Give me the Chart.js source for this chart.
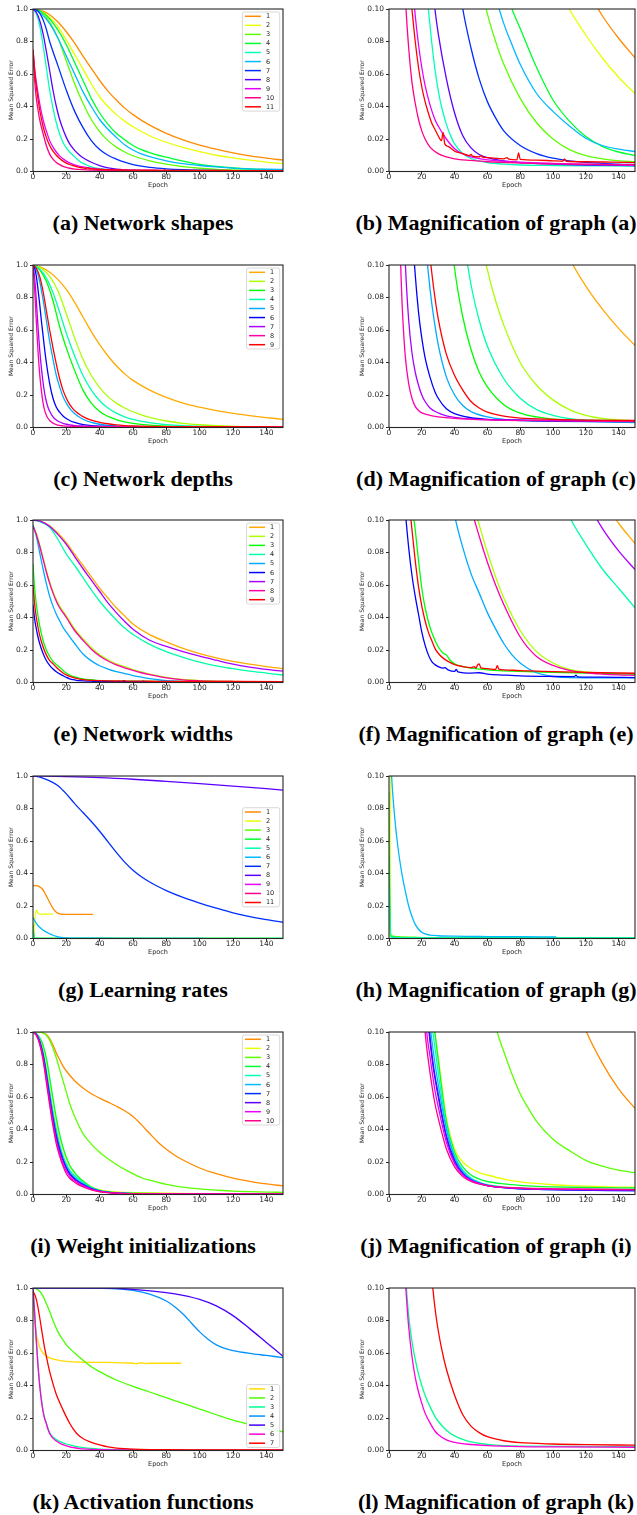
<!DOCTYPE html>
<html><head><meta charset="utf-8">
<script src="https://cdn.jsdelivr.net/npm/chart.js@4/dist/chart.umd.min.js"></script>
<style>
html,body{margin:0;padding:0;background:#fff;}
body{width:637px;height:1515px;position:relative;overflow:hidden;}
canvas{position:absolute;}
.cap{position:absolute;font-family:"Liberation Serif","Times New Roman",serif;font-weight:bold;font-size:22px;color:#000;white-space:nowrap;transform:translate(-50%,-50%);line-height:1;}
</style></head><body>
<script>
// ---------------- DATA (epoch, mean squared error) ----------------
const captions = ['(a) Network shapes','(b) Magnification of graph (a)','(c) Network depths','(d) Magnification of graph (c)','(e) Network widths','(f) Magnification of graph (e)','(g) Learning rates','(h) Magnification of graph (g)','(i) Weight initializations','(j) Magnification of graph (i)','(k) Activation functions','(l) Magnification of graph (k)'];

const xTicks = [0,20,40,60,80,100,120,140];
const yTicksMain = [0.0,0.2,0.4,0.6,0.8,1.0];
const yTicksZoom = [0.00,0.02,0.04,0.06,0.08,0.10];

const shapesLabels = ['1','2','3','4','5','6','7','8','9','10','11'];
const shapesSeries = [
 [[0,1],[5,0.99],[10,0.965],[15,0.92],[20,0.86],[25,0.79],[30,0.71],[35,0.635],[40,0.56],[45,0.495],[50,0.44],[55,0.39],[60,0.35],[70,0.285],[80,0.235],[90,0.195],[100,0.163],[110,0.137],[120,0.114],[130,0.096],[140,0.082],[150,0.07]],
 [[0,1],[5,0.985],[10,0.95],[15,0.89],[20,0.81],[25,0.72],[30,0.63],[35,0.54],[40,0.46],[45,0.4],[50,0.35],[55,0.31],[60,0.275],[70,0.22],[80,0.18],[90,0.148],[100,0.122],[110,0.1],[120,0.084],[130,0.07],[140,0.058],[150,0.048]],
 [[0,1],[5,0.98],[10,0.92],[15,0.82],[20,0.68],[25,0.54],[30,0.42],[35,0.32],[40,0.245],[45,0.19],[50,0.15],[55,0.12],[60,0.097],[65,0.08],[70,0.066],[80,0.045],[90,0.03],[100,0.02],[110,0.0135],[120,0.0098],[130,0.0078],[140,0.0066],[150,0.006]],
 [[0,1],[5,0.985],[10,0.94],[15,0.87],[20,0.78],[25,0.67],[30,0.56],[35,0.45],[40,0.36],[45,0.29],[50,0.235],[55,0.195],[60,0.16],[65,0.135],[70,0.116],[75,0.1],[80,0.088],[90,0.064],[100,0.044],[110,0.031],[120,0.0215],[130,0.0155],[140,0.012],[150,0.0098]],
 [[0,1],[2,0.97],[4,0.9],[6,0.78],[8,0.64],[10,0.5],[12,0.39],[14,0.3],[16,0.23],[18,0.18],[20,0.145],[22,0.12],[24,0.1],[26,0.08],[28,0.063],[30,0.05],[32,0.04],[35,0.029],[38,0.021],[40,0.017],[45,0.011],[50,0.008],[60,0.0055],[70,0.0045],[80,0.004],[100,0.0037],[150,0.0033]],
 [[0,1],[5,0.97],[10,0.91],[15,0.82],[20,0.71],[25,0.6],[30,0.49],[35,0.4],[40,0.32],[45,0.26],[50,0.21],[55,0.165],[60,0.132],[65,0.108],[70,0.091],[75,0.078],[80,0.066],[90,0.048],[100,0.037],[110,0.028],[120,0.0205],[130,0.016],[140,0.0138],[150,0.0123]],
 [[0,1],[2,0.995],[4,0.975],[6,0.935],[8,0.875],[10,0.8],[15,0.65],[20,0.5],[25,0.37],[30,0.27],[35,0.19],[40,0.135],[45,0.1],[50,0.076],[55,0.057],[60,0.043],[65,0.033],[70,0.025],[80,0.016],[90,0.011],[100,0.0082],[110,0.0066],[120,0.0056],[130,0.005],[140,0.0045],[150,0.0042]],
 [[0,1],[2,0.98],[4,0.93],[6,0.85],[8,0.74],[10,0.62],[12,0.5],[14,0.4],[16,0.32],[18,0.26],[20,0.21],[22,0.17],[25,0.13],[28,0.1],[30,0.085],[35,0.057],[40,0.036],[45,0.022],[50,0.0145],[55,0.0105],[60,0.0085],[70,0.0065],[80,0.0055],[100,0.0045],[120,0.004],[150,0.0037]],
 [[0,0.75],[1,0.63],[2,0.55],[4,0.42],[6,0.32],[8,0.25],[10,0.19],[12,0.15],[14,0.12],[16,0.096],[18,0.078],[20,0.064],[22,0.053],[25,0.041],[28,0.032],[30,0.028],[35,0.02],[40,0.014],[45,0.0108],[50,0.009],[60,0.0072],[70,0.0063],[80,0.0057],[100,0.005],[120,0.0045],[150,0.004]],
 [[0,0.73],[1,0.56],[2,0.45],[3,0.38],[4,0.32],[6,0.235],[8,0.16],[10,0.107],[12,0.076],[14,0.055],[16,0.042],[18,0.032],[20,0.025],[22,0.02],[25,0.015],[30,0.011],[35,0.009],[40,0.0078],[50,0.0068],[60,0.006],[80,0.0052],[100,0.0047],[120,0.0044],[150,0.0042]],
 [[0,0.75],[1,0.62],[2,0.52],[4,0.38],[6,0.28],[8,0.21],[10,0.16],[12,0.125],[14,0.1],[16,0.08],[18,0.064],[20,0.052],[22,0.043],[24,0.036],[26,0.03],[28,0.026],[30,0.022],[32,0.019],[33,0.024],[34,0.017],[36,0.0155],[38,0.014],[40,0.0125],[45,0.011],[49,0.0098],[50,0.0105],[51,0.0095],[55,0.009],[56,0.0098],[57,0.0088],[60,0.0085],[70,0.0078],[72,0.0085],[73,0.0076],[78,0.0072],[79,0.0115],[80,0.0075],[90,0.007],[100,0.0066],[106,0.0064],[107,0.0078],[108,0.0063],[120,0.006],[135,0.0058],[150,0.0055]]
];

const depthsLabels = ['1','2','3','4','5','6','7','8','9'];
const depthsSeries = [
 [[0,1],[5,0.985],[10,0.955],[15,0.91],[20,0.85],[25,0.77],[30,0.68],[35,0.59],[40,0.51],[45,0.44],[50,0.38],[55,0.33],[60,0.29],[70,0.23],[80,0.185],[90,0.15],[100,0.125],[110,0.104],[120,0.087],[130,0.073],[140,0.061],[150,0.0505]],
 [[0,1],[5,0.98],[10,0.93],[15,0.84],[20,0.7],[25,0.55],[30,0.42],[35,0.32],[40,0.245],[45,0.19],[50,0.15],[55,0.12],[60,0.097],[65,0.078],[70,0.063],[80,0.04],[90,0.026],[100,0.017],[110,0.011],[120,0.0075],[130,0.0056],[140,0.0047],[150,0.0042]],
 [[0,1],[4,0.97],[8,0.9],[12,0.78],[16,0.62],[20,0.49],[25,0.35],[30,0.23],[35,0.15],[40,0.098],[45,0.068],[50,0.048],[55,0.034],[60,0.025],[70,0.014],[80,0.0088],[90,0.0065],[100,0.0052],[120,0.0045],[150,0.004]],
 [[0,1],[4,0.975],[8,0.92],[12,0.83],[16,0.71],[20,0.58],[25,0.44],[30,0.32],[35,0.23],[40,0.165],[45,0.12],[50,0.088],[55,0.066],[60,0.05],[70,0.03],[80,0.018],[90,0.011],[100,0.0075],[110,0.0055],[120,0.0045],[135,0.0035],[150,0.003]],
 [[0,1],[2,0.97],[4,0.9],[6,0.79],[8,0.66],[10,0.53],[12,0.42],[14,0.32],[16,0.25],[18,0.19],[20,0.15],[22,0.118],[24,0.095],[26,0.077],[28,0.063],[30,0.051],[35,0.031],[40,0.02],[45,0.0135],[50,0.0098],[60,0.0065],[70,0.005],[80,0.0043],[100,0.0038],[150,0.0033]],
 [[0,1],[1,0.98],[2,0.93],[3,0.85],[4,0.76],[5,0.66],[6,0.57],[7,0.48],[8,0.4],[10,0.27],[12,0.18],[14,0.125],[16,0.094],[18,0.071],[20,0.055],[22,0.043],[25,0.031],[28,0.022],[30,0.018],[35,0.0115],[40,0.0085],[50,0.006],[60,0.005],[80,0.0045],[100,0.004],[150,0.0036]],
 [[0,1],[1,0.92],[2,0.78],[3,0.62],[4,0.48],[5,0.37],[6,0.28],[7,0.21],[8,0.16],[9,0.125],[10,0.1],[12,0.066],[14,0.046],[16,0.034],[18,0.026],[20,0.02],[22,0.016],[25,0.012],[30,0.009],[35,0.0072],[40,0.0062],[50,0.0052],[80,0.0046],[150,0.004]],
 [[0,1],[1,0.85],[2,0.65],[3,0.47],[4,0.33],[5,0.23],[6,0.155],[7,0.105],[8,0.076],[9,0.057],[10,0.043],[12,0.027],[14,0.018],[16,0.013],[18,0.0105],[20,0.009],[25,0.0075],[30,0.0066],[40,0.0056],[60,0.0047],[100,0.0041],[150,0.0037]],
 [[0,1],[2,0.98],[4,0.93],[6,0.84],[8,0.72],[10,0.6],[12,0.49],[14,0.39],[16,0.3],[18,0.23],[20,0.18],[22,0.142],[24,0.115],[26,0.096],[28,0.08],[30,0.067],[35,0.045],[40,0.032],[45,0.023],[50,0.016],[55,0.012],[60,0.0095],[70,0.007],[80,0.0058],[100,0.005],[120,0.0046],[150,0.0043]]
];

const widthsLabels = ['1','2','3','4','5','6','7','8','9'];
const widthsSeries = [
 [[0,1],[5,0.99],[10,0.965],[15,0.92],[20,0.86],[25,0.79],[30,0.72],[35,0.65],[40,0.58],[45,0.52],[50,0.46],[55,0.41],[60,0.36],[70,0.295],[80,0.25],[90,0.21],[100,0.178],[110,0.152],[120,0.13],[130,0.113],[140,0.098],[150,0.0855]],
 [[0,0.96],[2,0.92],[4,0.85],[6,0.77],[8,0.69],[10,0.62],[12,0.56],[14,0.51],[16,0.47],[18,0.44],[20,0.41],[25,0.33],[30,0.27],[35,0.215],[40,0.17],[45,0.14],[50,0.115],[55,0.097],[60,0.08],[65,0.065],[70,0.052],[80,0.032],[90,0.019],[100,0.012],[110,0.008],[120,0.0065],[130,0.0058],[140,0.0053],[150,0.005]],
 [[0,0.73],[1,0.58],[2,0.48],[4,0.35],[6,0.26],[8,0.2],[10,0.16],[12,0.13],[14,0.11],[16,0.094],[18,0.075],[20,0.058],[22,0.046],[25,0.034],[28,0.026],[30,0.022],[33,0.018],[35,0.017],[37,0.014],[40,0.0115],[45,0.0098],[50,0.0088],[60,0.0078],[70,0.0072],[80,0.0068],[100,0.0063],[120,0.0058],[150,0.0052]],
 [[0,1],[5,0.985],[10,0.955],[15,0.88],[20,0.79],[25,0.72],[30,0.645],[35,0.57],[40,0.5],[45,0.44],[50,0.385],[55,0.335],[60,0.295],[70,0.235],[80,0.19],[90,0.155],[100,0.125],[110,0.102],[120,0.085],[130,0.07],[140,0.058],[150,0.046]],
 [[0,0.97],[2,0.9],[4,0.8],[6,0.7],[8,0.61],[10,0.53],[12,0.47],[14,0.42],[16,0.38],[18,0.34],[20,0.31],[25,0.24],[30,0.175],[35,0.133],[40,0.103],[45,0.083],[50,0.067],[55,0.055],[60,0.043],[65,0.033],[70,0.024],[75,0.017],[80,0.012],[85,0.0085],[90,0.006],[100,0.0038],[110,0.003],[150,0.0028]],
 [[0,0.48],[1,0.39],[2,0.33],[3,0.28],[4,0.24],[6,0.18],[8,0.135],[10,0.105],[12,0.083],[14,0.066],[16,0.053],[18,0.042],[20,0.031],[22,0.023],[24,0.017],[26,0.013],[28,0.011],[30,0.0098],[33,0.0088],[34,0.0092],[36,0.0078],[40,0.0068],[41,0.008],[42,0.0066],[50,0.0058],[55,0.006],[60,0.0052],[70,0.0046],[80,0.0041],[100,0.0037],[113,0.0036],[114,0.0045],[115,0.0035],[130,0.0033],[150,0.003]],
 [[0,1],[5,0.99],[10,0.96],[15,0.91],[20,0.85],[25,0.775],[30,0.7],[35,0.63],[40,0.56],[45,0.49],[50,0.43],[55,0.375],[60,0.328],[70,0.26],[80,0.222],[90,0.19],[100,0.162],[110,0.137],[120,0.113],[130,0.095],[140,0.081],[150,0.0695]],
 [[0,0.96],[2,0.91],[4,0.84],[6,0.76],[8,0.68],[10,0.61],[12,0.55],[14,0.5],[16,0.46],[18,0.43],[20,0.4],[25,0.32],[30,0.26],[35,0.205],[40,0.163],[45,0.132],[50,0.108],[55,0.09],[60,0.074],[65,0.06],[70,0.048],[80,0.028],[90,0.016],[100,0.0105],[110,0.0075],[120,0.006],[130,0.0052],[140,0.0047],[150,0.0044]],
 [[0,0.6],[1,0.48],[2,0.4],[4,0.29],[6,0.22],[8,0.17],[10,0.135],[12,0.115],[14,0.094],[16,0.075],[18,0.059],[20,0.047],[22,0.038],[24,0.031],[26,0.026],[28,0.021],[30,0.018],[33,0.015],[36,0.013],[40,0.011],[45,0.0098],[50,0.0092],[52,0.0098],[53,0.0088],[54,0.0108],[55,0.0115],[56,0.009],[60,0.0085],[65,0.008],[66,0.0103],[67,0.0082],[70,0.0078],[80,0.0073],[90,0.007],[100,0.0067],[120,0.0062],[150,0.0057]]
];

const ratesLabels = ['1','2','3','4','5','6','7','8','9','10','11'];
const ratesSeries = [
 [[0,0.325],[2,0.325],[4,0.318],[6,0.3],[8,0.262],[10,0.222],[12,0.186],[14,0.162],[16,0.152],[18,0.149],[20,0.148],[25,0.148],[30,0.148],[36,0.148]],
 [[0,0],[2,0.175],[3,0.155],[4,0.15],[8,0.15],[12,0.15]],
 [[0,0.09],[1,0.003],[2,0.0016],[5,0.0011],[12,0.0009],[20,0.0006],[40,0.0005],[100,0.0004],[150,0.0004]],
 [[0,0.05],[1,0.0015],[3,0.0008],[10,0.0005],[50,0.0004],[150,0.0003]],
 [[0,0.03],[1,0.001],[5,0.0005],[50,0.0003],[150,0.0003]],
 [[0,0.13],[1,0.11],[2,0.093],[3,0.08],[4,0.069],[5,0.06],[6,0.052],[8,0.039],[10,0.029],[12,0.02],[14,0.0135],[16,0.0087],[18,0.0057],[20,0.0038],[22,0.0028],[25,0.0021],[30,0.0017],[40,0.0014],[60,0.0012],[80,0.0011],[102,0.001]],
 [[0,1],[5,0.99],[10,0.97],[15,0.94],[20,0.89],[25,0.83],[30,0.775],[35,0.72],[40,0.66],[45,0.595],[50,0.53],[55,0.47],[60,0.42],[65,0.38],[70,0.348],[75,0.32],[80,0.295],[90,0.253],[100,0.218],[110,0.187],[120,0.158],[130,0.135],[140,0.116],[150,0.1]],
 [[0,1],[20,0.996],[40,0.99],[60,0.98],[80,0.967],[100,0.953],[120,0.938],[140,0.922],[150,0.913]],
 [], [], []
];

const initsLabels = ['1','2','3','4','5','6','7','8','9','10'];
const initsSeries = [
 [[0,1],[4,1],[6,0.995],[8,0.985],[10,0.96],[12,0.92],[14,0.87],[16,0.83],[18,0.79],[20,0.76],[25,0.7],[30,0.655],[35,0.62],[40,0.593],[45,0.568],[50,0.543],[55,0.515],[60,0.48],[65,0.43],[70,0.375],[75,0.322],[80,0.278],[85,0.242],[90,0.212],[100,0.163],[110,0.128],[120,0.101],[130,0.081],[140,0.065],[150,0.053]],
 [[0,1],[2,0.99],[4,0.96],[6,0.91],[8,0.82],[10,0.7],[12,0.57],[14,0.45],[16,0.35],[18,0.28],[20,0.22],[22,0.175],[25,0.13],[28,0.1],[30,0.085],[35,0.047],[40,0.028],[45,0.02],[50,0.016],[55,0.0135],[60,0.012],[70,0.0095],[80,0.0078],[90,0.0068],[100,0.006],[110,0.0055],[120,0.0051],[130,0.0048],[140,0.0046],[150,0.0045]],
 [[0,1],[4,1],[6,0.995],[8,0.98],[10,0.95],[12,0.9],[14,0.84],[16,0.77],[18,0.7],[20,0.63],[22,0.56],[25,0.48],[30,0.375],[35,0.31],[40,0.26],[45,0.22],[50,0.185],[55,0.155],[60,0.128],[66,0.1],[70,0.088],[75,0.074],[80,0.062],[85,0.053],[90,0.045],[100,0.034],[110,0.027],[120,0.021],[130,0.0175],[140,0.015],[150,0.0134]],
 [[0,1],[2,0.99],[4,0.965],[6,0.92],[8,0.84],[10,0.72],[12,0.59],[14,0.47],[16,0.37],[18,0.29],[20,0.23],[22,0.18],[25,0.135],[28,0.1],[30,0.083],[35,0.045],[40,0.026],[45,0.017],[50,0.012],[55,0.0095],[60,0.008],[70,0.0065],[80,0.0056],[90,0.005],[100,0.0047],[120,0.0043],[150,0.004]],
 [[0,1],[2,0.99],[4,0.95],[6,0.88],[8,0.77],[10,0.64],[12,0.51],[14,0.4],[16,0.31],[18,0.24],[20,0.19],[22,0.15],[25,0.115],[27,0.098],[30,0.075],[35,0.042],[40,0.024],[45,0.015],[50,0.0102],[55,0.0076],[60,0.006],[70,0.0046],[80,0.0039],[100,0.0033],[150,0.0028]],
 [[0,1],[2,0.99],[4,0.95],[6,0.87],[8,0.75],[10,0.62],[12,0.49],[14,0.38],[16,0.29],[18,0.22],[20,0.175],[22,0.14],[25,0.105],[27,0.088],[30,0.068],[35,0.04],[40,0.023],[45,0.014],[50,0.0095],[60,0.0058],[80,0.0036],[100,0.003],[150,0.0025]],
 [[0,1],[2,0.985],[4,0.94],[6,0.86],[8,0.74],[10,0.6],[12,0.47],[14,0.36],[16,0.28],[18,0.215],[20,0.165],[22,0.13],[25,0.097],[27,0.08],[30,0.062],[35,0.036],[40,0.021],[45,0.013],[50,0.009],[55,0.0068],[60,0.0055],[70,0.0042],[80,0.0035],[100,0.003],[150,0.0022]],
 [[0,1],[2,0.985],[4,0.94],[6,0.855],[8,0.73],[10,0.59],[12,0.46],[14,0.35],[16,0.27],[18,0.21],[20,0.16],[22,0.125],[25,0.094],[27,0.078],[30,0.06],[35,0.035],[40,0.02],[45,0.0125],[50,0.0088],[60,0.0055],[70,0.0042],[80,0.0036],[100,0.003],[150,0.0025]],
 [[0,1],[2,0.98],[4,0.93],[6,0.84],[8,0.71],[10,0.57],[12,0.44],[14,0.33],[16,0.25],[18,0.19],[20,0.145],[23,0.1],[25,0.085],[28,0.064],[30,0.054],[35,0.032],[40,0.019],[45,0.012],[50,0.0085],[60,0.0055],[80,0.0038],[100,0.0033],[150,0.003]],
 [[0,1],[2,0.98],[4,0.925],[6,0.83],[8,0.69],[10,0.55],[12,0.42],[14,0.31],[16,0.235],[18,0.175],[20,0.128],[22,0.1],[25,0.075],[28,0.056],[30,0.047],[35,0.028],[40,0.017],[45,0.011],[50,0.008],[60,0.0055],[80,0.004],[100,0.0035],[150,0.003]]
];

const activationLabels = ['1','2','3','4','5','6','7'];
const activationSeries = [
 [[0,0.93],[1,0.8],[2,0.72],[3,0.67],[4,0.635],[6,0.6],[8,0.582],[10,0.57],[15,0.556],[20,0.548],[30,0.543],[40,0.542],[50,0.541],[55,0.539],[60,0.537],[62,0.534],[65,0.54],[67,0.535],[70,0.537],[80,0.537],[89,0.537]],
 [[0,1],[2,0.995],[4,0.98],[6,0.95],[8,0.905],[10,0.855],[12,0.8],[15,0.73],[18,0.68],[20,0.65],[25,0.6],[30,0.555],[35,0.515],[40,0.485],[45,0.458],[50,0.434],[60,0.395],[70,0.36],[80,0.325],[90,0.29],[100,0.255],[110,0.22],[120,0.187],[130,0.16],[140,0.135],[150,0.115]],
 [[0,1],[1,0.85],[2,0.68],[3,0.53],[4,0.41],[5,0.32],[6,0.25],[7,0.2],[8,0.17],[9,0.135],[10,0.11],[11,0.095],[12,0.083],[14,0.067],[16,0.056],[18,0.047],[20,0.04],[22,0.034],[25,0.027],[28,0.021],[30,0.018],[35,0.0125],[40,0.009],[45,0.0068],[50,0.0053],[60,0.0038],[70,0.003],[80,0.0027],[150,0.0024]],
 [[0,1],[20,1],[40,0.998],[50,0.995],[60,0.985],[70,0.962],[80,0.92],[85,0.885],[90,0.84],[95,0.785],[100,0.73],[105,0.685],[110,0.65],[115,0.628],[120,0.615],[130,0.598],[140,0.585],[150,0.572]],
 [[0,1],[40,1],[60,0.992],[80,0.972],[90,0.955],[100,0.93],[110,0.89],[120,0.83],[130,0.75],[140,0.665],[150,0.58]],
 [[0,1],[1,0.84],[2,0.67],[3,0.52],[4,0.4],[5,0.31],[6,0.24],[7,0.195],[8,0.165],[9,0.13],[10,0.105],[11,0.089],[12,0.076],[14,0.058],[16,0.045],[18,0.036],[20,0.029],[22,0.023],[25,0.017],[28,0.012],[30,0.0098],[35,0.0065],[40,0.005],[50,0.0037],[60,0.003],[80,0.0024],[100,0.0022],[150,0.002]],
 [[0,0.98],[1,0.96],[2,0.93],[3,0.88],[4,0.82],[5,0.755],[6,0.69],[7,0.63],[8,0.58],[9,0.53],[10,0.485],[12,0.41],[14,0.345],[16,0.295],[18,0.25],[20,0.207],[22,0.168],[24,0.135],[26,0.108],[28,0.088],[30,0.074],[32,0.063],[35,0.05],[40,0.034],[45,0.022],[50,0.015],[55,0.011],[60,0.0085],[70,0.006],[80,0.0048],[100,0.004],[120,0.0036],[150,0.0033]]
];

// ---------------- LAYOUT / STYLE ----------------
const panels = [
  {series: shapesSeries, labels: shapesLabels, hues: 11, loc: 'upper right'},
  {series: depthsSeries, labels: depthsLabels, hues: 9, loc: 'upper right'},
  {series: widthsSeries, labels: widthsLabels, hues: 9, loc: 'upper right'},
  {series: ratesSeries, labels: ratesLabels, hues: 11, loc: 'center right'},
  {series: initsSeries, labels: initsLabels, hues: 11, loc: 'upper right'},
  {series: activationSeries, labels: activationLabels, hues: 7, loc: 'lower right'}
];
const ROW_TOPS = [9, 265, 520, 776, 1032, 1288];
const PLOT_H = 162.5, PAD_TOP = 8, XAXIS_H = 22.5;
const INK = '#262626';
const FONT = 'DejaVu Sans';

function hsvColor(i, n) { return 'hsl(' + ((360 * (i + 1) / n) % 360) + ',100%,50%)'; }

const framePlugin = {
  id: 'frame',
  afterDatasetsDraw(chart) {
    const a = chart.chartArea, ctx = chart.ctx;
    ctx.save(); ctx.strokeStyle = INK; ctx.lineWidth = 1.1;
    ctx.strokeRect(a.left, a.top, a.right - a.left, a.bottom - a.top);
    ctx.restore();
  }
};

const mplLegend = {
  id: 'mplLegend',
  afterDraw(chart, args, opts) {
    if (!opts || !opts.loc) return;
    const ctx = chart.ctx, a = chart.chartArea, ds = chart.data.datasets;
    ctx.save();
    ctx.font = '6.5px "' + FONT + '"';
    let maxW = 0;
    ds.forEach(d => { maxW = Math.max(maxW, ctx.measureText(d.label).width); });
    const rowH = 9.05, padV = 4.3;
    const w = 2.5 + 16 + 5 + maxW + 5.5;
    const h = (ds.length - 1) * rowH + 2 * padV;
    const x = a.right - 3.3 - w;
    let y;
    if (opts.loc === 'upper right') y = a.top + 3;
    else if (opts.loc === 'lower right') y = a.bottom - 3 - h;
    else y = (a.top + a.bottom) / 2 - h / 2;
    const r = 2;
    ctx.beginPath();
    ctx.moveTo(x + r, y); ctx.lineTo(x + w - r, y); ctx.arcTo(x + w, y, x + w, y + r, r);
    ctx.lineTo(x + w, y + h - r); ctx.arcTo(x + w, y + h, x + w - r, y + h, r);
    ctx.lineTo(x + r, y + h); ctx.arcTo(x, y + h, x, y + h - r, r);
    ctx.lineTo(x, y + r); ctx.arcTo(x, y, x + r, y, r); ctx.closePath();
    ctx.fillStyle = 'rgba(255,255,255,0.85)'; ctx.fill();
    ctx.strokeStyle = 'rgba(200,200,200,0.9)'; ctx.lineWidth = 0.8; ctx.stroke();
    ds.forEach((d, i) => {
      const cy = y + padV + i * rowH;
      ctx.strokeStyle = d.borderColor; ctx.lineWidth = 1.5;
      ctx.beginPath(); ctx.moveTo(x + 2.5, cy); ctx.lineTo(x + 18.5, cy); ctx.stroke();
      ctx.fillStyle = INK; ctx.textBaseline = 'middle'; ctx.textAlign = 'left';
      ctx.fillText(d.label, x + 23.5, cy + 0.3);
    });
    ctx.restore();
  }
};

function makeCanvas(left, top, w, h) {
  const c = document.createElement('canvas');
  c.width = w; c.height = h;
  c.style.left = left + 'px'; c.style.top = top + 'px';
  c.style.width = w + 'px'; c.style.height = h + 'px';
  document.body.appendChild(c);
  return c;
}

function makeCaption(text, cx, cy) {
  const d = document.createElement('div');
  d.className = 'cap'; d.textContent = text;
  d.style.left = cx + 'px'; d.style.top = cy + 'px';
  document.body.appendChild(d);
}

function buildChart(panel, row, isMain) {
  const left = isMain ? 0 : 340;
  const width = isMain ? 300 : 297;
  const yW = isMain ? 33 : 49;
  const rightPad = isMain ? 17 : 2;
  const titlePad = isMain ? 8 : 19.3;
  const height = Math.round(PAD_TOP + PLOT_H + XAXIS_H);
  const canvas = makeCanvas(left, ROW_TOPS[row] - PAD_TOP, width, height);
  const n = panel.series.length;
  const datasets = panel.series.map((s, i) => ({
    label: panel.labels[i],
    data: s,
    borderColor: hsvColor(i, panel.hues),
    backgroundColor: hsvColor(i, panel.hues),
    borderWidth: 1.3,
    pointRadius: 0,
    fill: false,
    cubicInterpolationMode: 'monotone',
    order: n - i
  }));
  const yTicks = isMain ? yTicksMain : yTicksZoom;
  const dec = isMain ? 1 : 2;
  new Chart(canvas, {
    type: 'line',
    data: { datasets },
    plugins: [framePlugin, mplLegend],
    options: {
      responsive: false, animation: false, devicePixelRatio: 1,
      events: [],
      layout: { padding: { top: PAD_TOP, left: 0, right: rightPad, bottom: 0 } },
      plugins: {
        legend: { display: false }, tooltip: { enabled: false },
        mplLegend: { loc: isMain ? panel.loc : null }
      },
      scales: {
        x: {
          type: 'linear', min: 0, max: 150,
          afterBuildTicks(s) { s.ticks = xTicks.map(v => ({ value: v })); },
          ticks: { maxRotation: 0, autoSkip: false, padding: -1, color: INK,
                   font: { family: FONT, size: 7.5, lineHeight: 1 },
                   callback: v => String(v) },
          grid: { drawOnChartArea: false, drawTicks: true, tickLength: 3, color: INK, lineWidth: 1 },
          border: { display: false },
          title: { display: true, text: 'Epoch', color: INK,
                   font: { family: FONT, size: 6.5, lineHeight: 1 }, padding: { top: 0, bottom: 4.95 } },
          afterFit(s) { s.height = XAXIS_H; }
        },
        y: {
          type: 'linear', min: 0, max: yTicks[yTicks.length - 1],
          afterBuildTicks(s) { s.ticks = yTicks.map(v => ({ value: v })); },
          ticks: { padding: 2, color: INK, autoSkip: false,
                   font: { family: FONT, size: 7.5, lineHeight: 1 },
                   callback: v => Number(v).toFixed(dec) },
          grid: { drawOnChartArea: false, drawTicks: true, tickLength: 3, color: INK, lineWidth: 1 },
          border: { display: false },
          title: { display: true, text: 'Mean Squared Error', color: INK,
                   font: { family: FONT, size: 6, lineHeight: 1 }, padding: { top: titlePad, bottom: 0 } },
          afterFit(s) { s.width = yW; }
        }
      }
    }
  });
}

panels.forEach((p, r) => {
  buildChart(p, r, true);
  buildChart(p, r, false);
  makeCaption(captions[2 * r], 143, ROW_TOPS[r] + 214);
  makeCaption(captions[2 * r + 1], 496, ROW_TOPS[r] + 214);
});
</script>
</body></html>
